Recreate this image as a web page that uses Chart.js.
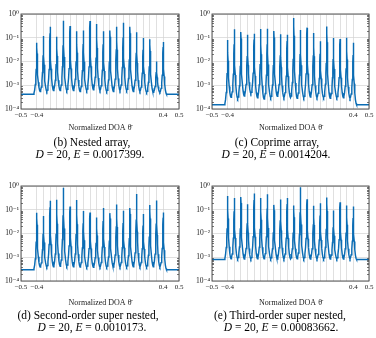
<!DOCTYPE html>
<html><head><meta charset="utf-8">
<script src="https://cdn.jsdelivr.net/npm/chart.js@4/dist/chart.umd.min.js"></script>
<style>
html,body{margin:0;padding:0;background:#fff;}
body{width:376px;height:338px;position:relative;overflow:hidden;font-family:"Liberation Serif","DejaVu Serif",serif;color:#000;}
canvas{position:absolute;}
.cap{position:absolute;font-size:11.5px;white-space:nowrap;transform:translate(-50%,-50%);line-height:13px;}
</style></head><body>
<canvas id="c1" width="190" height="140" style="left:0px;top:0px;width:190px;height:140px"></canvas>
<canvas id="c2" width="190" height="140" style="left:186px;top:0px;width:190px;height:140px"></canvas>
<canvas id="c3" width="190" height="140" style="left:0px;top:170px;width:190px;height:140px"></canvas>
<canvas id="c4" width="190" height="140" style="left:186px;top:170px;width:190px;height:140px"></canvas>
<div class="cap" style="left:92px;top:141.5px">(b) Nested array,</div>
<div class="cap" style="left:90px;top:154px"><i>D</i> = 20, <i>E</i> = 0.0017399.</div>
<div class="cap" style="left:277px;top:141.5px">(c) Coprime array,</div>
<div class="cap" style="left:276px;top:154px"><i>D</i> = 20, <i>E</i> = 0.0014204.</div>
<div class="cap" style="left:88px;top:315px">(d) Second-order super nested,</div>
<div class="cap" style="left:92px;top:326.5px"><i>D</i> = 20, <i>E</i> = 0.0010173.</div>
<div class="cap" style="left:280px;top:315px">(e) Third-order super nested,</div>
<div class="cap" style="left:281px;top:326.5px"><i>D</i> = 20, <i>E</i> = 0.00083662.</div>
<script>
// ---- data ----
const doaPositions = [-0.4, -0.3579, -0.3158, -0.2737, -0.2316, -0.1895, -0.1474, -0.1053, -0.0632, -0.0211,
                      0.0211, 0.0632, 0.1053, 0.1474, 0.1895, 0.2316, 0.2737, 0.3158, 0.3579, 0.4];
const xTickValues = [-0.5, -0.4, 0.4, 0.5];
const xTickLabels = ['\u22120.5', '\u22120.4', '0.4', '0.5'];
const yTickValues = [1e-4, 1e-3, 1e-2, 1e-1, 1];
const yTickLabels = ['10\u207B\u2074', '10\u207B\u00B3', '10\u207B\u00B2', '10\u207B\u00B9', '10\u2070'];
const xAxisTitle = 'Normalized DOA \u03B8\u0304';

// peak shape: offset from a peak (fraction of half spacing)
// and height as fraction of the log rise from valley to peak
const peakProfileOffset = [0, 0.03, 0.07, 0.12, 0.2, 0.3, 0.45, 0.65, 0.85, 1];
const peakProfileLevel  = [1, 0.9, 0.78, 0.64, 0.48, 0.34, 0.19, 0.08, 0.02, 0];
const halfSpacing = 0.02105;

const peaksNested = [0.062, 0.118, 0.29, 0.11, 0.52, 0.31, 0.19, 0.20, 0.51, 0.38,
                     0.19, 0.20, 0.29, 0.43, 0.29, 0.17, 0.098, 0.086, 0.0099, 0.066];
const valleysNested = [5.5e-4, 5.5e-4, 6e-4, 6e-4, 6e-4, 6e-4, 5.5e-4, 6e-4, 6.5e-4, 6e-4,
                       5.5e-4, 5.5e-4, 6e-4, 6e-4, 5.5e-4, 5.5e-4, 5e-4, 5e-4, 5e-4];
const floorNested = 4.2e-4;

const peaksCoprime = [0.080, 0.226, 0.175, 0.135, 0.149, 0.234, 0.24, 0.192, 0.139, 0.135,
                      0.68, 0.21, 0.266, 0.158, 0.071, 0.30, 0.098, 0.089, 0.10, 0.062];
const valleysCoprime = [3.1e-4, 2.8e-4, 3.5e-4, 4.5e-4, 3e-4, 2.6e-4, 3e-4, 3.4e-4, 3e-4, 3e-4,
                        2.8e-4, 3e-4, 3.2e-4, 3e-4, 3e-4, 2.8e-4, 3e-4, 3e-4, 2.8e-4];
const floorCoprime = 1.5e-4;

const peaksSecond = [0.075, 0.054, 0.24, 0.265, 0.85, 0.138, 0.256, 0.088, 0.077, 0.047,
                     0.118, 0.072, 0.168, 0.091, 0.118, 0.46, 0.066, 0.158, 0.248, 0.077];
const valleysSecond = [3.9e-4, 3.9e-4, 4e-4, 4.2e-4, 4.2e-4, 4e-4, 3.9e-4, 3.8e-4, 3.8e-4, 3.8e-4,
                       3.8e-4, 3.9e-4, 3.9e-4, 3.9e-4, 4e-4, 4e-4, 3.9e-4, 4e-4, 3.9e-4];
const floorSecond = 3.0e-4;

const peaksThird = [0.38, 0.315, 0.347, 0.171, 0.48, 0.315, 0.45, 0.16, 0.268, 0.315,
                    0.151, 0.88, 0.277, 0.146, 0.188, 0.325, 0.093, 0.207, 0.151, 0.137];
const valleysThird = [8.6e-4, 8.6e-4, 8.5e-4, 8.5e-4, 8.6e-4, 8.6e-4, 8.5e-4, 8.5e-4, 8.5e-4, 8.5e-4,
                      8.6e-4, 8.6e-4, 8.5e-4, 8.5e-4, 8.5e-4, 8.5e-4, 8.5e-4, 8.5e-4, 8.5e-4];
const floorThird = 8.0e-4;

// ---- build spectrum points from the read values ----
function buildCurve(peaks, valleys, floor) {
  const pts = [{x: -0.5, y: floor}];
  const n = peakProfileOffset.length;
  const lg = Math.log10;
  for (let i = 0; i < doaPositions.length; i++) {
    const p = doaPositions[i], h = peaks[i];
    const vl = i === 0 ? floor : valleys[i - 1];
    const vr = i === doaPositions.length - 1 ? floor : valleys[i];
    for (let j = n - 1; j >= 1; j--) {
      if (j === n - 1 && i > 0) continue;
      const y = Math.pow(10, lg(vl) + peakProfileLevel[j] * (lg(h) - lg(vl)));
      pts.push({x: p - peakProfileOffset[j] * halfSpacing, y});
    }
    pts.push({x: p, y: h});
    for (let j = 1; j < n; j++) {
      const y = Math.pow(10, lg(vr) + peakProfileLevel[j] * (lg(h) - lg(vr)));
      pts.push({x: p + peakProfileOffset[j] * halfSpacing, y});
    }
  }
  pts.push({x: 0.5, y: floor});
  return pts;
}

const FONT = '"Liberation Serif","DejaVu Serif",serif';

const framePlugin = {
  id: 'frame',
  afterDraw(chart) {
    const {ctx, chartArea: a, scales} = chart;
    const ys = scales.y;
    ctx.save();
    ctx.strokeStyle = '#555';
    ctx.lineWidth = 0.8;
    ctx.beginPath();
    for (let k = -4; k < 0; k++) {
      for (let m = 2; m <= 9; m++) {
        const py = Math.round(ys.getPixelForValue(m * Math.pow(10, k))) + 0.5;
        ctx.moveTo(a.left, py); ctx.lineTo(a.left + 2, py);
        ctx.moveTo(a.right, py); ctx.lineTo(a.right - 2, py);
      }
    }
    ctx.stroke();
    ctx.strokeStyle = '#444';
    ctx.lineWidth = 0.9;
    ctx.strokeRect(a.left, a.top, a.right - a.left, a.bottom - a.top);
    ctx.restore();
  }
};

function makeChart(id, box, area, titleY, curve) {
  const lh = 8 * 1.2;
  new Chart(document.getElementById(id), {
    type: 'line',
    data: {datasets: [{data: curve, borderColor: '#0a6cb4', borderWidth: 1.45, pointRadius: 0, tension: 0, fill: false}]},
    options: {
      responsive: false, animation: false, devicePixelRatio: 1,
      layout: {padding: {left: 0, top: area.t - box.y, right: box.x + box.w - area.r, bottom: 0}},
      plugins: {legend: {display: false}, tooltip: {enabled: false}},
      scales: {
        x: {
          type: 'linear', min: -0.5, max: 0.5,
          afterBuildTicks: s => { s.ticks = [-0.5, ...doaPositions, 0.5].map(v => ({value: v})); },
          afterFit: s => { s.height = box.y + box.h - area.b; },
          ticks: {autoSkip: false, maxRotation: 0, minRotation: 0, padding: 2, color: '#222',
                  font: {family: FONT, size: 7},
                  callback: v => { const k = xTickValues.findIndex(t => Math.abs(t - v) < 1e-6); return k < 0 ? '' : xTickLabels[k]; }},
          grid: {color: '#d2d2d2', lineWidth: 0.7, drawTicks: false},
          border: {display: false},
          title: {display: true, text: xAxisTitle, color: '#222', font: {family: FONT, size: 8},
                  padding: {top: 0, bottom: box.y + box.h - titleY - lh / 2}}
        },
        y: {
          type: 'logarithmic', min: 1e-4, max: 1,
          afterBuildTicks: s => { s.ticks = yTickValues.map(v => ({value: v})); },
          afterFit: s => { s.width = area.l - box.x; },
          ticks: {padding: 2, color: '#222', font: {family: FONT, size: 7.5},
                  callback: v => { const k = yTickValues.findIndex(t => Math.abs(Math.log10(t) - Math.log10(v)) < 1e-6); return k < 0 ? '' : yTickLabels[k]; }},
          grid: {color: '#d2d2d2', lineWidth: 0.7, drawTicks: false},
          border: {display: false}
        }
      }
    },
    plugins: [framePlugin]
  });
}

makeChart('c1', {x: 0, y: 0, w: 190, h: 140}, {l: 21, t: 14, r: 179, b: 109}, 128, buildCurve(peaksNested, valleysNested, floorNested));
makeChart('c2', {x: 186, y: 0, w: 190, h: 140}, {l: 212, t: 14, r: 369, b: 109}, 128, buildCurve(peaksCoprime, valleysCoprime, floorCoprime));
makeChart('c3', {x: 0, y: 170, w: 190, h: 140}, {l: 21, t: 186, r: 179, b: 281}, 302.5, buildCurve(peaksSecond, valleysSecond, floorSecond));
makeChart('c4', {x: 186, y: 170, w: 190, h: 140}, {l: 212, t: 186, r: 369, b: 281}, 302.5, buildCurve(peaksThird, valleysThird, floorThird));
</script>
</body></html>
